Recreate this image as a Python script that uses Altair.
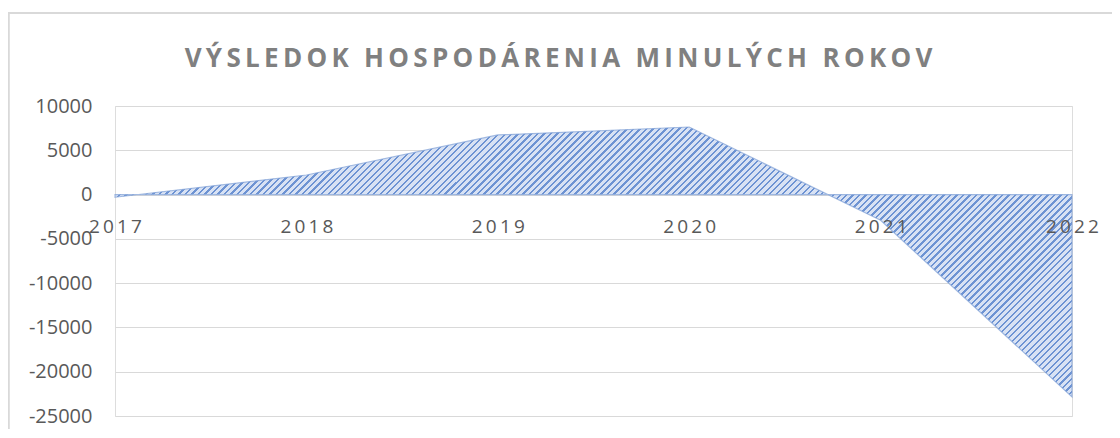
import altair as alt
import pandas as pd

# ---- data ----
years = ["2017", "2018", "2019", "2020", "2021", "2022"]
values = [-300, 2210, 6730, 7630, -2900, -22850]
y_ticks = [10000, 5000, 0, -5000, -10000, -15000, -20000, -25000]
title_text = "VÝSLEDOK HOSPODÁRENIA MINULÝCH ROKOV"

df = pd.DataFrame({"year": years, "value": values})

# ---- styling ----
PLOT_W, PLOT_H = 957, 310
THIN = "\u2009"
spaced_title = THIN.join(title_text)

# diagonal hatch simulated with a striped linear gradient ("/" lines)
BOX_W, BOX_H = 957.0, 270.0          # approximate pixel bounding box of the area
r = BOX_H / BOX_W
a = (BOX_W + BOX_H) / (BOX_W * (1 + r * r))
n_stripes = 189
dark_frac = 0.36
light_col = "#d8e2f4"
dark_col = "#6d93d3"
stops = []
for i in range(n_stripes):
    o0 = i / n_stripes
    o1 = (i + dark_frac) / n_stripes
    o2 = (i + 1) / n_stripes
    stops.append(alt.GradientStop(color=dark_col, offset=o0))
    stops.append(alt.GradientStop(color=dark_col, offset=o1))
    stops.append(alt.GradientStop(color=light_col, offset=o1))
    stops.append(alt.GradientStop(color=light_col, offset=o2))

hatch = alt.LinearGradient(gradient="linear", stops=stops,
                           x1=0, y1=0, x2=a, y2=a * r)

x_enc = alt.X(
    "year:O",
    sort=years,
    scale=alt.Scale(type="point", padding=0),
    axis=alt.Axis(
        title=None, orient="bottom", offset=-221, ticks=False, domain=False,
        grid=False, labelAngle=0, labelFont="Open Sans", labelFontSize=19,
        labelColor="#595959", labelPadding=22, zindex=1,
        labelExpr="join(split(datum.label, ''), '" + THIN + "')",
    ),
)

y_scale = alt.Scale(domain=[-25000, 10000], nice=False, zero=False)

area = alt.Chart(df).mark_area(
    fill=hatch, stroke="#7f9fd6", strokeWidth=1.2, strokeOpacity=0.7,
    interpolate="linear",
).encode(
    x=x_enc,
    y=alt.Y("value:Q", scale=y_scale, axis=alt.Axis(
        title=None, values=y_ticks, ticks=False, domain=False,
        grid=True, gridColor="#d9d9d9", gridWidth=1,
        labelFont="Open Sans", labelFontSize=20, labelColor="#595959",
        labelPadding=23, labelExpr="'' + datum.value",
    )),
    y2=alt.datum(0),
)

frame = alt.Chart(df).mark_rect(
    fill=None, stroke="#d9d9d9", strokeWidth=1.5, clip=False
).encode(
    x=alt.value(-106.5), x2=alt.value(1300),
    y=alt.value(-93), y2=alt.value(600),
)

chart = alt.layer(frame, area).properties(
    width=PLOT_W, height=PLOT_H,
    title=alt.TitleParams(
        text=spaced_title, font="Open Sans", fontSize=26, fontWeight="bold",
        color="#808080", anchor="middle", frame="group", dx=-35, offset=-81,
        baseline="alphabetic",
    ),
    autosize=alt.AutoSizeParams(type="none"),
    padding={"left": 107, "top": 98, "right": 40, "bottom": 13},
).configure_view(stroke=None).configure(background="white")

chart.save("out.html", embed_options={"renderer": "svg", "actions": False})
